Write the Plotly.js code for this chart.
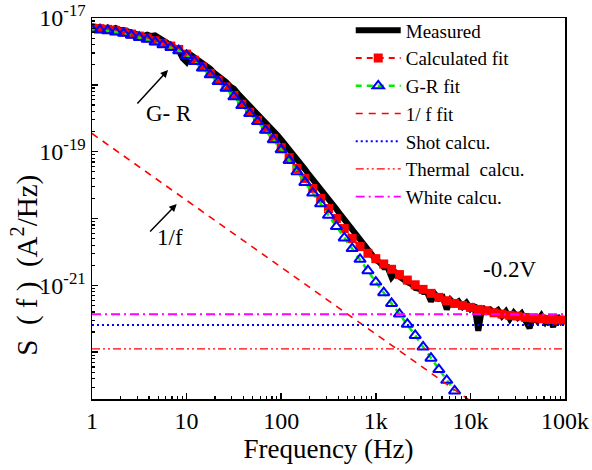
<!DOCTYPE html>
<html>
<head>
<meta charset="utf-8">
<script src="https://cdn.plot.ly/plotly-3.0.1.min.js"></script>
<style>html,body{margin:0;padding:0;background:#fff;}#chart{width:592px;height:470px;}</style>
</head>
<body>
<div id="chart"></div>
<script>
// ---- data ----
const fitFreq = [1, 1.212, 1.468, 1.778, 2.154, 2.610, 3.162, 3.831, 4.642, 5.623, 6.813, 8.254,
  10, 12.12, 14.68, 17.78, 21.54, 26.10, 31.62, 38.31, 46.42, 56.23, 68.13, 82.54,
  100, 121.2, 146.8, 177.8, 215.4, 261.0, 316.2, 383.1, 464.2, 562.3, 681.3, 825.4,
  1000, 1212, 1468, 1778, 2154, 2610, 3162, 3831, 4642, 5623, 6813, 8254,
  10000, 12115, 14678, 17783, 21544, 26102, 31623, 38312, 46416, 56234, 68129, 82540,
  100000];

const calcFit = [7.08e-18, 6.92e-18, 6.76e-18, 6.46e-18, 6.17e-18, 5.75e-18, 5.37e-18, 5.01e-18, 4.57e-18, 4.17e-18, 3.80e-18, 3.39e-18,
  2.88e-18, 2.34e-18, 1.86e-18, 1.48e-18, 1.17e-18, 9.33e-19, 6.92e-19, 5.13e-19, 3.89e-19, 2.95e-19, 2.19e-19, 1.58e-19,
  1.15e-19, 8.13e-20, 5.62e-20, 3.98e-20, 2.82e-20, 2.00e-20, 1.41e-20, 1.00e-20, 7.08e-21, 5.01e-21, 3.80e-21, 3.02e-21,
  2.51e-21, 2.09e-21, 1.74e-21, 1.45e-21, 1.20e-21, 1.02e-21, 8.71e-22, 7.59e-22, 6.61e-22, 5.89e-22, 5.37e-22, 5.01e-22,
  4.68e-22, 4.37e-22, 4.17e-22, 3.89e-22, 3.72e-22, 3.55e-22, 3.47e-22, 3.31e-22, 3.24e-22, 3.16e-22, 3.09e-22, 3.02e-22,
  3.02e-22];

const grFit = [6.76e-18, 6.61e-18, 6.46e-18, 6.17e-18, 5.89e-18, 5.50e-18, 5.13e-18, 4.79e-18, 4.37e-18, 3.98e-18, 3.63e-18, 3.24e-18,
  2.75e-18, 2.24e-18, 1.78e-18, 1.41e-18, 1.12e-18, 8.91e-19, 6.61e-19, 4.90e-19, 3.72e-19, 2.82e-19, 2.09e-19, 1.51e-19,
  1.07e-19, 7.41e-20, 5.01e-20, 3.47e-20, 2.40e-20, 1.66e-20, 1.12e-20, 7.59e-21, 5.13e-21, 3.55e-21, 2.45e-21, 1.66e-21,
  1.12e-21, 7.76e-22, 5.37e-22, 3.72e-22, 2.63e-22, 1.78e-22, 1.20e-22, 8.13e-23, 5.50e-23, 3.80e-23, 2.63e-23];

const measFreq = [1, 1.101, 1.212, 1.334, 1.468, 1.616, 1.778, 1.957, 2.154, 2.371, 2.610, 2.873, 3.162, 3.481, 3.831, 4.217, 4.642, 5.109, 5.623, 6.190, 6.813, 7.499, 8.254, 9.085,
  10, 11.01, 12.12, 13.34, 14.68, 16.16, 17.78, 19.57, 21.54, 23.71, 26.10, 28.73, 31.62, 34.81, 38.31, 42.17, 46.42, 51.09, 56.23, 61.90, 68.13, 74.99, 82.54, 90.85,
  100, 110.1, 121.2, 133.4, 146.8, 161.6, 177.8, 195.7, 215.4, 237.1, 261.0, 287.3, 316.2, 348.1, 383.1, 421.7, 464.2, 510.9, 562.3, 619.0, 681.3, 749.9, 825.4, 908.5,
  1000, 1101, 1212, 1334, 1468, 1616, 1778, 1957, 2154, 2371, 2610, 2873, 3162, 3481, 3831, 4217, 4642, 5109, 5623, 6190, 6813, 7499, 8254, 9085,
  10000, 11007, 12115, 13335, 14678, 16156, 17783, 19573, 21544, 23714, 26102, 28730, 31623, 34807, 38312, 42170, 46416, 51090, 56234, 61897, 68129, 74989, 82540, 90852,
  100000];

const measured = [7.59e-18, 7.08e-18, 7.41e-18, 6.92e-18, 7.24e-18, 6.76e-18, 7.08e-18, 6.61e-18, 6.61e-18, 6.31e-18, 6.17e-18, 5.89e-18,
  5.75e-18, 5.37e-18, 5.62e-18, 5.37e-18, 5.50e-18, 5.01e-18, 4.57e-18, 4.17e-18, 3.98e-18, 3.63e-18, 3.31e-18, 2.51e-18,
  2.19e-18, 2.82e-18, 2.57e-18, 2.34e-18, 2.09e-18, 1.95e-18, 1.74e-18, 1.51e-18, 1.38e-18, 1.23e-18, 1.10e-18, 9.55e-19,
  8.71e-19, 7.41e-19, 6.46e-19, 5.62e-19, 4.90e-19, 4.27e-19, 3.72e-19, 3.24e-19, 2.82e-19, 2.40e-19, 2.09e-19, 1.78e-19,
  1.51e-19, 1.29e-19, 1.10e-19, 9.12e-20, 7.76e-20, 6.46e-20, 5.50e-20, 4.57e-20, 3.89e-20, 3.24e-20, 2.75e-20, 2.29e-20,
  1.95e-20, 1.62e-20, 1.38e-20, 1.15e-20, 9.77e-21, 8.13e-21, 6.76e-21, 5.62e-21, 4.79e-21, 4.07e-21, 3.39e-21, 2.88e-21,
  2.40e-21, 2.19e-21, 1.86e-21, 1.86e-21, 1.32e-21, 1.55e-21, 1.35e-21, 1.20e-21, 1.12e-21, 1.05e-21, 9.12e-22, 8.91e-22,
  7.94e-22, 7.94e-22, 5.75e-22, 7.41e-22, 6.31e-22, 6.61e-22, 4.37e-22, 6.03e-22, 5.25e-22, 5.75e-22, 4.79e-22, 5.50e-22,
  4.47e-22, 5.13e-22, 2.09e-22, 4.68e-22, 4.17e-22, 4.37e-22, 3.89e-22, 4.27e-22, 3.47e-22, 4.07e-22, 3.16e-22, 3.89e-22,
  3.31e-22, 3.80e-22, 3.02e-22, 2.29e-22, 3.55e-22, 2.95e-22, 3.55e-22, 2.82e-22, 3.39e-22, 2.40e-22, 3.47e-22, 2.88e-22,
  3.31e-22];

const oneFFreq = [1, 10, 100, 1000, 10000, 100000];
const oneFFit = [1.87e-19, 1.87e-20, 1.87e-21, 1.87e-22, 1.87e-23, 1.87e-24];

const levelFreq = [1, 100000];
const shotLevel = [2.56e-22, 2.56e-22];
const thermalLevel = [1.12e-22, 1.12e-22];
const whiteLevel = [3.70e-22, 3.70e-22];

const xTickVals = [1, 10, 100, 1000, 10000, 100000];
const xTickText = ['1', '10', '100', '1k', '10k', '100k'];
const yTickVals = [1e-22, 1e-21, 1e-20, 1e-19, 1e-18, 1e-17];
const yTickText = ['', '10<sup>-21</sup>', '', '10<sup>-19</sup>', '', '10<sup>-17</sup>'];

const seriesNames = ['Measured', 'Calculated fit', 'G-R fit', '1/ f fit', 'Shot calcu.', 'Thermal\u00a0 calcu.', 'White calcu.'];
const labelGR = 'G- R';
const labelOneF = '1/f';
const labelBias = '-0.2V';
const labelX = 'Frequency (Hz)';
const labelY = 'S\u00a0 (\u00a0f\u00a0)\u00a0 (A<sup>2</sup>/Hz)';

// ---- chart ----
const FONT = 'Liberation Serif';

const traces = [
  {x: measFreq, y: measured, name: seriesNames[0], mode: 'lines',
   line: {color: '#000000', width: 6}},
  {x: fitFreq, y: calcFit, name: seriesNames[1], mode: 'lines+markers',
   line: {color: '#ff0000', width: 2, dash: '6px,5px'},
   marker: {symbol: 'square', size: 9, color: '#ff0000'}},
  {x: fitFreq.slice(0, grFit.length), y: grFit, name: seriesNames[2], mode: 'lines+markers',
   line: {color: '#00ee00', width: 2.5, dash: '6px,5px'},
   marker: {symbol: 'triangle-up-open', size: 10, color: '#0000ff', line: {width: 2, color: '#0000ff'}}},
  {x: oneFFreq, y: oneFFit, name: seriesNames[3], mode: 'lines',
   line: {color: '#ff0000', width: 1.6, dash: '7px,6px'}},
  {x: levelFreq, y: shotLevel, name: seriesNames[4], mode: 'lines',
   line: {color: '#0000ff', width: 2, dash: '2px,3px'}},
  {x: levelFreq, y: thermalLevel, name: seriesNames[5], mode: 'lines',
   line: {color: '#ff0000', width: 1.3, dash: '8px,3px,2px,3px,2px,3px'}},
  {x: levelFreq, y: whiteLevel, name: seriesNames[6], mode: 'lines',
   line: {color: '#ff00ff', width: 1.8, dash: '9px,4px,2px,4px'}}
];

const axisCommon = {
  type: 'log', showgrid: false, zeroline: false,
  showline: true, linecolor: '#000', linewidth: 1.5, mirror: true,
  ticks: 'inside', ticklen: 6, tickwidth: 1.5, tickcolor: '#000',
  tickmode: 'array',
  tickfont: {family: FONT, size: 24, color: '#000'},
  minor: {ticks: 'inside', ticklen: 3, tickwidth: 1.2, tickcolor: '#000', dtick: 'D1', showgrid: false}
};

const annFont = (s) => ({family: FONT, size: s, color: '#000'});

const layout = {
  width: 592, height: 470,
  margin: {l: 92, r: 27, t: 18, b: 71},
  paper_bgcolor: '#fff', plot_bgcolor: '#fff',
  font: {family: FONT, color: '#000'},
  showlegend: true,
  legend: {x: 0.547, y: 1.017, xanchor: 'left', yanchor: 'top',
           bgcolor: 'rgba(255,255,255,0)', borderwidth: 0,
           font: {family: FONT, size: 19, color: '#000'}, tracegroupgap: 0, itemwidth: 45},
  xaxis: Object.assign({}, axisCommon, {
    range: [0, 5], tickvals: xTickVals, ticktext: xTickText,
    title: {text: labelX, font: annFont(27), standoff: 6}
  }),
  yaxis: Object.assign({}, axisCommon, {
    range: [-22.7, -17], tickvals: yTickVals, ticktext: yTickText
  }),
  annotations: [
    {xref: 'paper', yref: 'paper', x: -0.1416, y: 0.35, xanchor: 'center', yanchor: 'middle',
     textangle: -90, showarrow: false, text: labelY, font: annFont(29)},
    {xref: 'paper', yref: 'paper', x: 0.1607, y: 0.8635, ax: -32, ay: 35,
     showarrow: true, arrowhead: 2, arrowsize: 1, arrowwidth: 1.5, arrowcolor: '#000', text: ''},
    {xref: 'paper', yref: 'paper', x: 0.163, y: 0.75, xanchor: 'center', yanchor: 'middle',
     showarrow: false, text: labelGR, font: annFont(23)},
    {xref: 'paper', yref: 'paper', x: 0.179, y: 0.5118, ax: -28, ay: 29,
     showarrow: true, arrowhead: 2, arrowsize: 1, arrowwidth: 1.5, arrowcolor: '#000', text: ''},
    {xref: 'paper', yref: 'paper', x: 0.1649, y: 0.4226, xanchor: 'center', yanchor: 'middle',
     showarrow: false, text: labelOneF, font: annFont(23)},
    {xref: 'paper', yref: 'paper', x: 0.8837, y: 0.3386, xanchor: 'center', yanchor: 'middle',
     showarrow: false, text: labelBias, font: annFont(23)}
  ]
};

Plotly.newPlot('chart', traces, layout, {staticPlot: true, displayModeBar: false});
</script>
</body>
</html>
